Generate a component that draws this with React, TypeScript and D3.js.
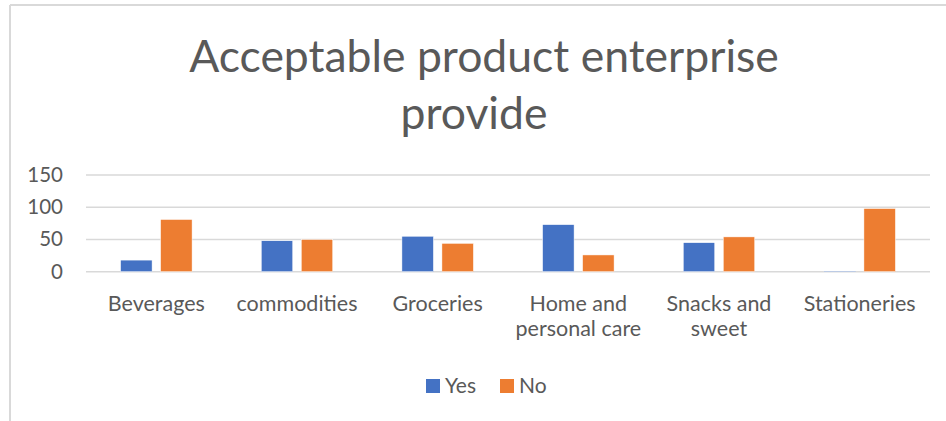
import React from "react";
import * as d3 from "d3";

const categories: string[][] = [
  ["Beverages"],
  ["commodities"],
  ["Groceries"],
  ["Home and", "personal care"],
  ["Snacks and", "sweet"],
  ["Stationeries"],
];
const yesValues = [18, 48, 55, 73, 45, 1];
const noValues = [81, 50, 44, 26, 54, 98];
const seriesNames = ["Yes", "No"];
const seriesColors = ["#4472C4", "#ED7D31"];
const yTicks = [0, 50, 100, 150];
const titleLines = ["Acceptable product enterprise", "provide"];

const W = 946;
const H = 421;
const FONT = "Lato, 'Open Sans', sans-serif";
const TEXT = "#595959";

export default function App() {
  const left = 86;
  const right = 930;
  const y = d3.scaleLinear().domain([0, 150]).range([271.7, 175]);
  const x0 = d3
    .scaleBand<number>()
    .domain(d3.range(categories.length))
    .range([left, right])
    .padding(0);
  const bw = 31.5;
  const gap = 8.5;
  const series = [yesValues, noValues];

  return (
    <svg
      width={W}
      height={H}
      style={{ position: "absolute", left: 0, top: 0, background: "#fff" }}
      fontFamily={FONT}
    >
      <rect x={0} y={0} width={W} height={H} fill="#fff" />
      <line x1={10} y1={5} x2={W} y2={5} stroke="#D9D9D9" strokeWidth={2} />
      <line x1={10} y1={5} x2={10} y2={H} stroke="#D9D9D9" strokeWidth={2} />

      <text x={484} y={72} textAnchor="middle" fontSize={44.5} fill={TEXT}>
        {titleLines[0]}
      </text>
      <text x={474} y={129} textAnchor="middle" fontSize={44.5} fill={TEXT}>
        {titleLines[1]}
      </text>

      {yTicks.map((t) => (
        <g key={t}>
          <line
            x1={left}
            x2={right}
            y1={y(t)}
            y2={y(t)}
            stroke="#D9D9D9"
            strokeWidth={1.5}
          />
          <text
            x={63}
            y={y(t) + 7}
            textAnchor="end"
            fontSize={20.5}
            fill={TEXT}
          >
            {t}
          </text>
        </g>
      ))}

      {categories.map((c, i) => {
        const cx = (x0(i) as number) + x0.bandwidth() / 2;
        return (
          <g key={i}>
            {series.map((vals, s) => {
              const bx = s === 0 ? cx - gap / 2 - bw : cx + gap / 2;
              const v = vals[i];
              return (
                <rect
                  key={s}
                  x={bx}
                  y={y(v)}
                  width={bw}
                  height={y(0) - y(v)}
                  fill={seriesColors[s]}
                  stroke="#fff"
                  strokeWidth={0.5}
                />
              );
            })}
            {c.map((line, k) => (
              <text
                key={k}
                x={cx}
                y={311 + k * 25}
                textAnchor="middle"
                fontSize={21.5}
                fill={TEXT}
              >
                {line}
              </text>
            ))}
          </g>
        );
      })}

      {seriesNames.map((n, s) => {
        const lx = s === 0 ? 426 : 500;
        return (
          <g key={n}>
            <rect x={lx} y={379} width={14} height={14} fill={seriesColors[s]} />
            <text x={lx + 19} y={393} fontSize={21} fill={TEXT}>
              {n}
            </text>
          </g>
        );
      })}
    </svg>
  );
}
